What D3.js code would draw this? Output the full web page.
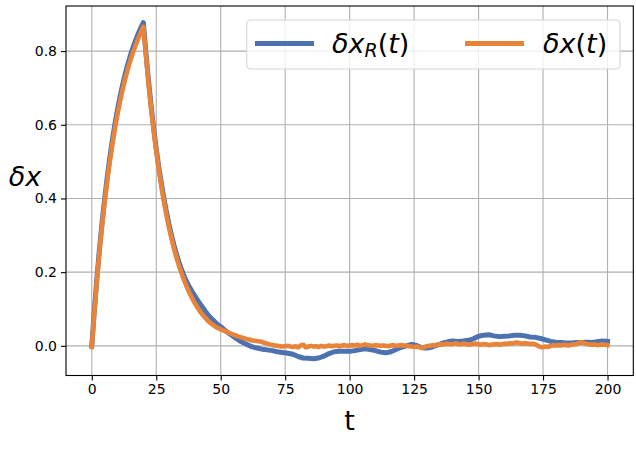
<!DOCTYPE html>
<html>
<head>
<meta charset="utf-8">
<script src="https://cdn.jsdelivr.net/npm/d3@7"></script>
<style>
  html, body { margin: 0; padding: 0; background: #fff; }
  svg { display: block; font-family: "DejaVu Sans", sans-serif; }
</style>
</head>
<body>
<svg id="chart" width="636" height="450"></svg>
<script>
// ---------------- data ----------------
const xTicks = [0, 25, 50, 75, 100, 125, 150, 175, 200];
const yTicks = [0.0, 0.2, 0.4, 0.6, 0.8];

// δx_R(t): smooth series (step 1 up to t=50, then step 2)
const tR = d3.range(0, 51).concat(d3.range(52, 201, 2));
const vR = [
  0.000, 0.097, 0.185, 0.265, 0.336, 0.400, 0.459, 0.512, 0.560, 0.603, 0.642,
  0.678, 0.710, 0.739, 0.765, 0.789, 0.810, 0.829, 0.847, 0.863, 0.877,
  0.795, 0.720, 0.652, 0.590, 0.535, 0.485, 0.440, 0.399, 0.362, 0.328,
  0.297, 0.270, 0.245, 0.223, 0.203, 0.186, 0.171, 0.158, 0.146, 0.135,
  0.124, 0.114, 0.104, 0.094, 0.085, 0.077, 0.070, 0.063, 0.057, 0.052,
  0.040, 0.030, 0.020, 0.011, 0.004, -0.002, -0.006, -0.009, -0.011, -0.013,
  -0.016, -0.018, -0.020, -0.023, -0.029, -0.033, -0.034, -0.035, -0.033, -0.028,
  -0.021, -0.016, -0.015, -0.015, -0.015, -0.013, -0.010, -0.008, -0.010, -0.013,
  -0.017, -0.019, -0.016, -0.010, -0.004, 0.000, 0.004, 0.001, -0.005, -0.006,
  -0.003, 0.002, 0.007, 0.011, 0.013, 0.012, 0.013, 0.015, 0.019, 0.026,
  0.029, 0.030, 0.027, 0.025, 0.026, 0.027, 0.029, 0.029, 0.027, 0.024,
  0.023, 0.020, 0.016, 0.012, 0.010, 0.009, 0.008, 0.008, 0.009, 0.009,
  0.010, 0.009, 0.011, 0.013, 0.012
];

// δx(t): noisy series, step 1
const tX = d3.range(0, 201);
const vX = [
  -0.003, 0.090, 0.178, 0.257, 0.328, 0.391, 0.449, 0.500, 0.548, 0.590, 0.630,
  0.665, 0.697, 0.726, 0.752, 0.776, 0.797, 0.816, 0.834, 0.851, 0.866,
  0.790, 0.712, 0.645, 0.585, 0.528, 0.478, 0.432, 0.390, 0.353, 0.319,
  0.289, 0.260, 0.236, 0.213, 0.193, 0.174, 0.157, 0.142, 0.128, 0.115,
  0.104, 0.093, 0.084, 0.076, 0.068, 0.062, 0.057, 0.052, 0.048, 0.045,
  0.042, 0.039, 0.036, 0.033, 0.030, 0.028, 0.025, 0.023, 0.021, 0.018,
  0.017, 0.015, 0.014, 0.013, 0.012, 0.011, 0.008, 0.006, 0.004, 0.002,
  0.001, 0.000, -0.001, -0.002, -0.001, 0.000, -0.002, -0.003, -0.001, -0.004,
  0.001, 0.003, -0.004, -0.002, 0.000, -0.002, -0.001, -0.003, 0.000, -0.002,
  -0.001, 0.001, -0.001, 0.000, 0.001, -0.001, 0.001, 0.002, 0.000, 0.001,
  0.002, 0.001, 0.003, 0.000, 0.002, 0.004, 0.002, 0.001, 0.000, 0.002,
  0.001, 0.000, 0.001, 0.000, -0.001, 0.001, 0.002, 0.000, 0.001, 0.002,
  0.001, 0.000, -0.001, -0.002, -0.003, -0.002, -0.004, -0.005, -0.003, -0.001,
  0.000, 0.002, 0.001, 0.003, 0.004, 0.003, 0.005, 0.006, 0.004, 0.005,
  0.007, 0.005, 0.004, 0.006, 0.005, 0.003, 0.004, 0.005, 0.006, 0.004,
  0.003, 0.005, 0.004, 0.002, 0.003, 0.004, 0.005, 0.003, 0.004, 0.006,
  0.005, 0.007, 0.006, 0.008, 0.009, 0.007, 0.006, 0.007, 0.006, 0.005,
  0.006, 0.004, 0.000, -0.003, -0.004, -0.002, -0.003, 0.000, 0.002, 0.001,
  0.002, 0.001, 0.003, 0.002, 0.001, 0.003, 0.004, 0.005, 0.009, 0.010,
  0.007, 0.005, 0.004, 0.003, 0.004, 0.002, 0.003, 0.004, 0.003, 0.002
];

const blue = "#4c72b0";
const orange = "#e8843a";

// ---------------- layout ----------------
const L = 66, R = 633.3, T = 6, B = 375.5;
const svg = d3.select("#chart");

const x = d3.scaleLinear().domain([-10, 210]).range([L, R]);
const y = d3.scaleLinear().domain([-0.0805, 0.9224]).range([B, T]);

svg.append("defs").append("clipPath").attr("id", "clip")
  .append("rect").attr("x", L).attr("y", T).attr("width", R - L).attr("height", B - T);

// grid
const grid = svg.append("g").attr("stroke", "#b0b0b0").attr("stroke-width", 1.1);
grid.selectAll("line.vx").data(xTicks).join("line")
  .attr("x1", d => x(d)).attr("x2", d => x(d)).attr("y1", T).attr("y2", B);
grid.selectAll("line.hy").data(yTicks).join("line")
  .attr("y1", d => y(d)).attr("y2", d => y(d)).attr("x1", L).attr("x2", R);

// lines
const lineR = d3.line().x((d, i) => x(tR[i])).y(d => y(d));
const lineX = d3.line().x((d, i) => x(tX[i])).y(d => y(d));
const plot = svg.append("g").attr("clip-path", "url(#clip)");
plot.append("path").attr("d", lineR(vR)).attr("fill", "none")
  .attr("stroke", blue).attr("stroke-width", 5).attr("stroke-linejoin", "round").attr("stroke-linecap", "square");
plot.append("path").attr("d", lineX(vX)).attr("fill", "none")
  .attr("stroke", orange).attr("stroke-width", 4.6).attr("stroke-linejoin", "round").attr("stroke-linecap", "square");

// axes
const xAxis = d3.axisBottom(x).tickValues(xTicks).tickSize(5).tickPadding(4).tickFormat(d3.format("d"));
const yAxis = d3.axisLeft(y).tickValues(yTicks).tickSize(5).tickPadding(4).tickFormat(d3.format(".1f"));
const gx = svg.append("g").attr("transform", `translate(0,${B})`).call(xAxis);
const gy = svg.append("g").attr("transform", `translate(${L},0)`).call(yAxis);
[gx, gy].forEach(g => {
  g.select(".domain").remove();
  g.selectAll(".tick line").attr("stroke", "#000").attr("stroke-width", 1.1);
  g.selectAll(".tick text").attr("fill", "#000").attr("font-size", 14)
    .attr("font-family", "DejaVu Sans, sans-serif");
});

// spines
svg.append("rect").attr("x", L).attr("y", T).attr("width", R - L).attr("height", B - T)
  .attr("fill", "none").attr("stroke", "#000").attr("stroke-width", 1.1);

// axis labels
svg.append("text").attr("x", (L + R) / 2).attr("y", 430).attr("text-anchor", "middle")
  .attr("font-size", 27).text("t");
svg.append("text").attr("x", 25).attr("y", 186).attr("text-anchor", "middle")
  .attr("font-size", 27).attr("font-style", "italic").text("δx");

// legend
const lg = svg.append("g");
lg.append("rect").attr("x", 246.7).attr("y", 20).attr("width", 373.3).attr("height", 49)
  .attr("rx", 4).attr("fill", "#fff").attr("fill-opacity", 0.8)
  .attr("stroke", "#d6d6d6").attr("stroke-width", 1.1);
lg.append("line").attr("x1", 255).attr("x2", 314).attr("y1", 43.5).attr("y2", 43.5)
  .attr("stroke", blue).attr("stroke-width", 5);
lg.append("line").attr("x1", 465).attr("x2", 524).attr("y1", 43.5).attr("y2", 43.5)
  .attr("stroke", orange).attr("stroke-width", 5);

const t1 = lg.append("text").attr("x", 332).attr("y", 53.3).attr("font-size", 27);
t1.append("tspan").attr("font-style", "italic").text("δx");
t1.append("tspan").attr("font-style", "italic").attr("font-size", 19).attr("dy", 4).text("R");
t1.append("tspan").attr("dy", -4).text("(");
t1.append("tspan").attr("font-style", "italic").text("t");
t1.append("tspan").text(")");

const t2 = lg.append("text").attr("x", 543).attr("y", 53.3).attr("font-size", 27);
t2.append("tspan").attr("font-style", "italic").text("δx");
t2.append("tspan").text("(");
t2.append("tspan").attr("font-style", "italic").text("t");
t2.append("tspan").text(")");
</script>
</body>
</html>
